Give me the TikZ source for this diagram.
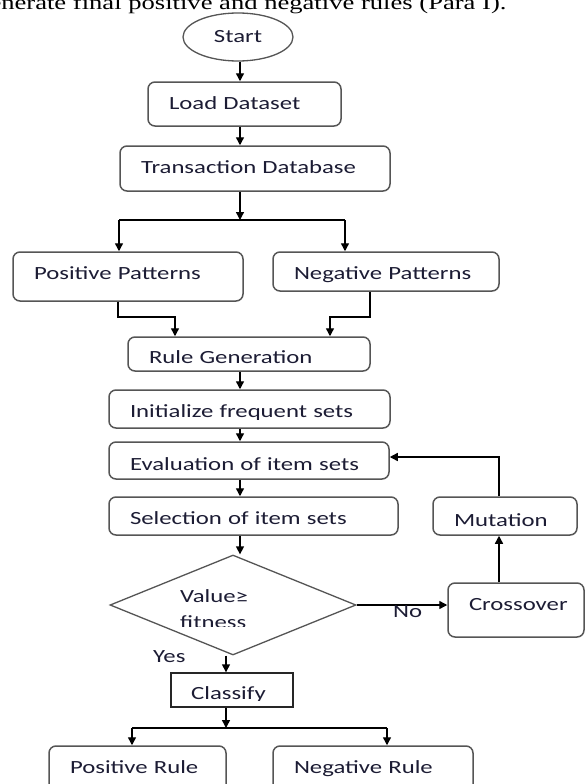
\documentclass[tikz,border=0pt]{standalone}
\usepackage{fontspec}
\newfontfamily\boxfont{Carlito}[FakeStretch=1.33]
\newfontfamily\capfont{Liberation Serif}[FakeStretch=1.33]
\usetikzlibrary{arrows.meta,shapes.geometric}
\definecolor{txt}{RGB}{28,28,52}
\definecolor{edgec}{RGB}{85,85,85}
\begin{document}
\begin{tikzpicture}[x=1pt,y=-1pt,
  bfont/.style={font=\boxfont\fontsize{18.6}{22}\selectfont, text=txt},
  box/.style={bfont, draw=edgec, line width=1.5pt, rounded corners=7pt, fill=white,
    inner xsep=21pt, inner ysep=0pt, align=left, text depth=0pt},
  arr/.style={line width=1.4pt, -{Triangle[length=8pt,width=8pt]}},
  ln/.style={line width=1.4pt},
  lbl/.style={bfont, inner sep=0pt, anchor=base west}]
\fill[white] (0,0) rectangle (586,784);
\useasboundingbox (0,0) rectangle (586,784);

% caption line (cropped at top)
\node[font=\capfont\fontsize{20}{24}\selectfont, anchor=base west, inner sep=0pt] (cap) at (-24,10)
  {generate final positive and negative rules (Para I).};

% nodes
\node[bfont, draw=edgec, line width=1.3pt, ellipse, minimum width=110pt, minimum height=48pt,
  inner sep=0pt, text height=12pt, text depth=0pt] (start) at (238,37) {Start};
\node[box, text width=151pt, minimum height=44pt, text height=10pt] (load) at (244.5,104) {\mbox{Load Dataset}};
\node[box, text width=228pt, minimum height=45pt, text height=10pt] (trans) at (255,168.5) {\mbox{Transaction Database}};
\node[box, text width=188pt, minimum height=49pt, text height=5pt] (pp) at (128,276.5) {\mbox{Positive Patterns}};
\node[box, text width=184pt, minimum height=39pt, text height=15pt] (np) at (386,271.5) {\mbox{Negative Patterns}};
\node[box, text width=200pt, minimum height=34pt, text height=19pt] (rg) at (249,354) {\mbox{Rule Generation}};
\node[box, text width=239pt, minimum height=38pt, text height=16pt] (init) at (249.5,409) {\mbox{Initialize frequent sets}};
\node[box, text width=238pt, minimum height=37pt, text height=19pt] (eval) at (249,460.5) {\mbox{Evaluation of item sets}};
\node[box, text width=247pt, minimum height=38pt, text height=17pt] (sel) at (253.5,516) {\mbox{Selection of item sets}};
\node[box, text width=102pt, minimum height=38pt, text height=20pt] (mut) at (505,516) {\mbox{Mutation}};
\node[box, text width=94pt, minimum height=54pt, text height=0pt] (cross) at (516,610) {\mbox{Crossover}};
\node[draw=edgec, line width=1.3pt, diamond, aspect=2.46, minimum width=246pt, minimum height=100pt,
  inner sep=0pt] (dia) at (233,605) {};
\node[lbl] (v1) at (180,602) {Value≥};
\begin{scope}
  \clip (150,590) rectangle (320,626);
  \node[lbl] (v2) at (180,628) {fitness};
\end{scope}
\node[draw=black!85, line width=1.4pt, minimum width=122pt, minimum height=34pt, inner sep=0pt] (cls) at (232,690) {};
\begin{scope}
  \clip (175,675) rectangle (290,700.5);
  \node[lbl] (clst) at (191,699) {Classify};
\end{scope}
\node[box, text width=135pt, minimum height=46pt, text height=9pt] (pr) at (137.5,769) {\mbox{Positive Rule}};
\node[box, text width=158pt, minimum height=46pt, text height=9pt] (nr) at (373,769) {\mbox{Negative Rule}};

% helper coordinates
\coordinate (c) at (240,0);
\coordinate (s1) at (240,220);
\coordinate (s1l) at (119,220);
\coordinate (s1r) at (345,220);
\coordinate (px) at (118,0);
\coordinate (nx) at (370,0);
\coordinate (j1) at (175,317);
\coordinate (j2) at (330,317);
\coordinate (c2) at (226,0);
\coordinate (s2) at (226,728);
\coordinate (s2l) at (132,728);
\coordinate (s2r) at (387,728);
\coordinate (m) at (499,457);

% connectors
\draw[arr] (start.south -| c) -- (load.north -| c);
\draw[arr] (load.south -| c) -- (trans.north -| c);
\draw[arr] (trans.south -| c) -- (s1);
\draw[ln] (s1l) -- (s1r);
\draw[arr] (s1l) -- (s1l |- pp.north);
\draw[arr] (s1r) -- (s1r |- np.north);
\draw[arr] (pp.south -| px) |- (j1) -- (j1 |- rg.north);
\draw[arr] (np.south -| nx) |- (j2) -- (j2 |- rg.north);
\draw[arr] (rg.south -| c) -- (init.north -| c);
\draw[arr] (init.south -| c) -- (eval.north -| c);
\draw[arr] (eval.south -| c) -- (sel.north -| c);
\draw[arr] (sel.south -| c) -- (c |- dia.north);
\draw[arr] (dia.south -| c2) -- (cls.north -| c2);
\draw[arr] (cls.south -| s2) -- (s2);
\draw[ln] (s2l) -- (s2r);
\draw[arr] (s2l) -- (s2l |- pr.north);
\draw[arr] (s2r) -- (s2r |- nr.north);
\draw[arr] (dia.east) -- (dia.east -| cross.west);
\draw[arr] (cross.north -| m) -- (mut.south -| m);
\draw[arr] (mut.north -| m) -- (m) -- (eval.east |- m);

% labels
\node[lbl] (yes) at (153,662) {Yes};
\node[lbl] (no) at (393,617) {No};
\end{tikzpicture}
\end{document}
